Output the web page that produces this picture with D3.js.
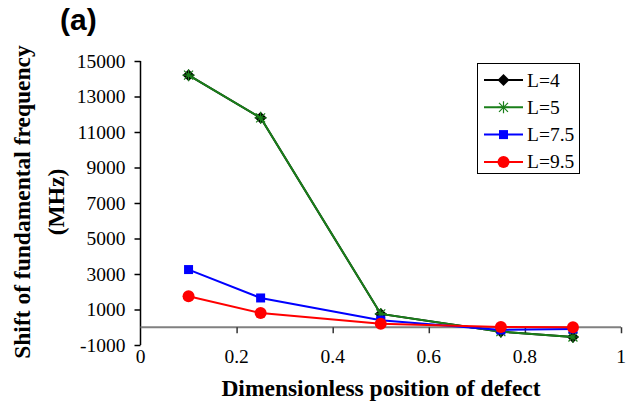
<!DOCTYPE html>
<html><head><meta charset="utf-8">
<script src="https://cdn.jsdelivr.net/npm/d3@7"></script>
<style>body{margin:0;background:#fff}svg{display:block}</style>
</head><body>
<svg id="chart" width="635" height="405"></svg>
<script>
const positions = [0.1, 0.25, 0.5, 0.75, 0.9];
const L4 = [14200, 11800, 750, -250, -550];
const L5 = [14200, 11800, 750, -250, -550];
const L75 = [3250, 1650, 400, -150, -100];
const L95 = [1750, 800, 200, 20, 0];
const seriesNames = ["L=4", "L=5", "L=7.5", "L=9.5"];
const xTicks = [0, 0.2, 0.4, 0.6, 0.8, 1];
const yTicks = [-1000, 1000, 3000, 5000, 7000, 9000, 11000, 13000, 15000];

const series = [
  {name: seriesNames[0], values: L4, color: "#000000", marker: "diamond"},
  {name: seriesNames[1], values: L5, color: "#1a7f1a", marker: "star"},
  {name: seriesNames[2], values: L75, color: "#0000ff", marker: "square"},
  {name: seriesNames[3], values: L95, color: "#ff0000", marker: "circle"}
];

const svg = d3.select("#chart");
const x = d3.scaleLinear().domain([0, 1]).range([140.5, 621]);
const y = d3.scaleLinear().domain([-1000, 15000]).range([345, 61]);
const serif = "'Liberation Serif','Times New Roman',serif";

// Title
svg.append("text").attr("x", 60).attr("y", 30)
  .attr("font-family", "'Liberation Sans',Arial,sans-serif")
  .attr("font-weight", "bold").attr("font-size", 30).text("(a)");

// Y axis
const yAxis = svg.append("g").attr("transform", `translate(${x(0)},0)`)
  .call(d3.axisLeft(y).tickValues(yTicks).tickSize(6).tickPadding(9).tickFormat(d => String(d)));
yAxis.select(".domain").attr("stroke", "#000").attr("stroke-width", 1.5).attr("d", `M0,${y(15000)}V${y(-1000)}`);
yAxis.selectAll(".tick line").attr("stroke", "#000").attr("stroke-width", 1.5);
yAxis.selectAll(".tick text").attr("font-family", serif).attr("font-size", 19.5).attr("fill", "#000");

// X axis at zero
const xAxis = svg.append("g").attr("transform", `translate(0,${y(0)})`)
  .call(d3.axisBottom(x).tickValues(xTicks.filter(d => d > 0)).tickSize(6).tickFormat(d3.format("")));
xAxis.select(".domain").attr("stroke", "#808080").attr("stroke-width", 2).attr("d", `M${x(0)},0H${x(1)}`);
xAxis.selectAll(".tick line").attr("stroke", "#333").attr("stroke-width", 1.5);
xAxis.selectAll(".tick text").remove();

// X tick labels below the plot
svg.append("g").selectAll("text").data(xTicks).join("text")
  .attr("x", d => x(d)).attr("y", 363)
  .attr("text-anchor", "middle").attr("font-family", serif).attr("font-size", 19.5)
  .text(d => String(d));

// Axis titles
svg.append("text").attr("x", 381).attr("y", 396).attr("text-anchor", "middle")
  .attr("font-family", serif).attr("font-weight", "bold").attr("font-size", 23.5)
  .text("Dimensionless position of defect");
const yt = svg.append("text").attr("transform", "translate(0,202) rotate(-90)")
  .attr("text-anchor", "middle").attr("font-family", serif).attr("font-weight", "bold").attr("font-size", 23.5);
yt.append("tspan").attr("x", 0).attr("y", 30).text("Shift of fundamental frequency");
yt.append("tspan").attr("x", 0).attr("y", 64).text("(MHz)");

function drawMarker(g, type, color, cx, cy) {
  if (type === "diamond") {
    g.append("path").attr("d", `M0,-6L6,0L0,6L-6,0Z`).attr("transform", `translate(${cx},${cy})`).attr("fill", color);
  } else if (type === "star") {
    const s = 6;
    g.append("path").attr("d", `M${-s},0H${s}M${-s*0.75},${-s*0.75}L${s*0.75},${s*0.75}M${-s*0.75},${s*0.75}L${s*0.75},${-s*0.75}M0,${-s}V${s}`)
      .attr("transform", `translate(${cx},${cy})`).attr("stroke", color).attr("stroke-width", 1.2).attr("fill", "none");
  } else if (type === "square") {
    g.append("rect").attr("x", cx - 4.5).attr("y", cy - 4.5).attr("width", 9).attr("height", 9).attr("fill", color);
  } else {
    g.append("circle").attr("cx", cx).attr("cy", cy).attr("r", 6).attr("fill", color);
  }
}

const line = d3.line().x((d, i) => x(positions[i])).y(d => y(d));
series.forEach(s => {
  const g = svg.append("g");
  g.append("path").attr("d", line(s.values)).attr("fill", "none").attr("stroke", s.color).attr("stroke-width", 2);
  s.values.forEach((v, i) => drawMarker(g, s.marker, s.color, x(positions[i]), y(v)));
});

// Legend
const lg = svg.append("g");
lg.append("rect").attr("x", 477.5).attr("y", 63.5).attr("width", 102).attr("height", 110)
  .attr("fill", "#fff").attr("stroke", "#000").attr("stroke-width", 1);
series.forEach((s, i) => {
  const ly = 80 + i * 27.3;
  lg.append("line").attr("x1", 484).attr("x2", 523).attr("y1", ly).attr("y2", ly).attr("stroke", s.color).attr("stroke-width", 2);
  drawMarker(lg, s.marker, s.color, 503.5, ly);
  lg.append("text").attr("x", 527).attr("y", ly + 6.5).attr("font-family", serif).attr("font-size", 19.5).text(s.name);
});
</script>
</body></html>
